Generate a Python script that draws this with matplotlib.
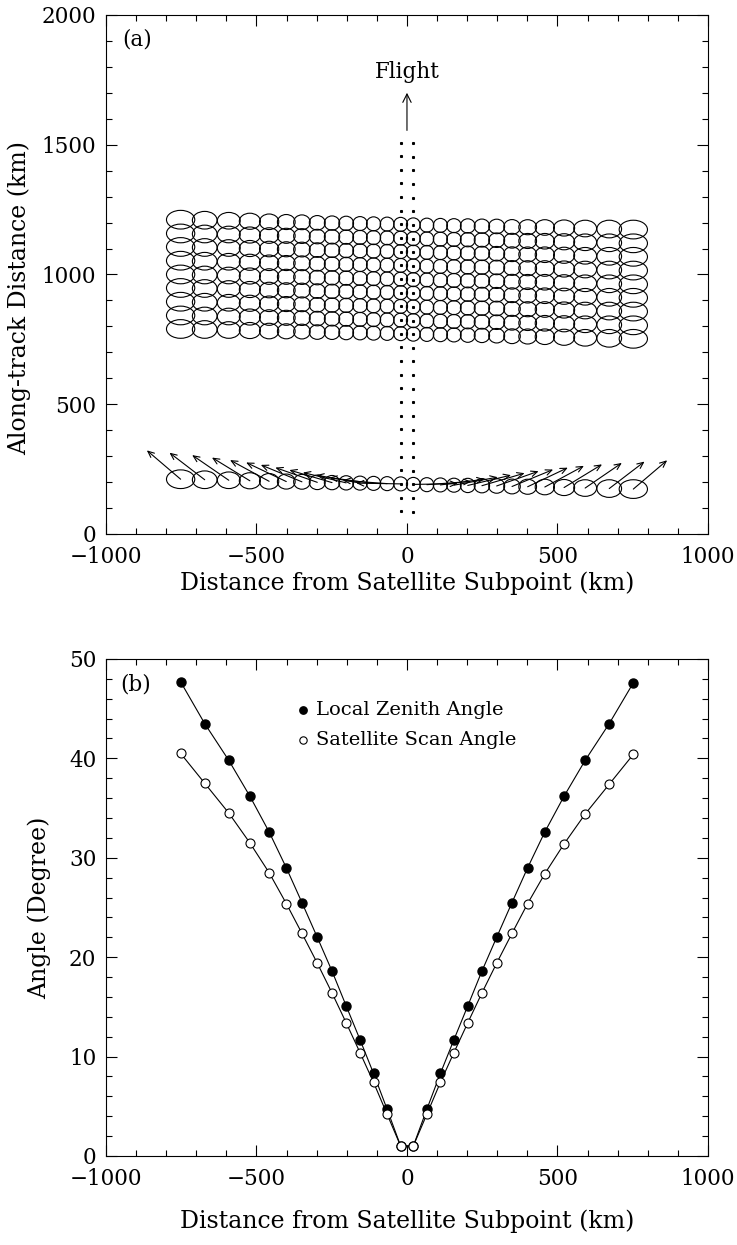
import numpy as np
import matplotlib.pyplot as plt
from matplotlib.patches import Ellipse
from matplotlib.ticker import MultipleLocator

plt.rcParams['font.family'] = ['DejaVu Serif']
plt.rcParams['mathtext.fontset'] = 'dejavuserif'

# Posiciones de los 28 FOV a lo largo del barrido (km desde el subpunto)
fov_x = [-752, -672, -592, -522, -458, -401, -349, -298, -249, -202, -156, -111, -66, -21,
         21, 66, 111, 156, 202, 249, 298, 349, 401, 458, 522, 592, 672, 752]
# Tamaño de cada huella (km)
fov_w = [94, 82, 76, 70, 64, 59, 55, 53, 51, 49, 48, 47, 46, 46,
         46, 46, 47, 48, 49, 51, 53, 55, 59, 64, 70, 76, 82, 94]
fov_h = [72, 68, 64, 62, 60, 58, 57, 56, 55, 55, 54, 54, 54, 54,
         54, 54, 54, 54, 55, 55, 56, 57, 58, 60, 62, 64, 68, 72]
# Desplazamiento a lo largo de la traza por la rotación de la Tierra (km)
fov_tilt = [19, 17, 15, 13, 11, 10, 9, 7, 6, 5, 4, 3, 2, 1,
            -1, -2, -3, -4, -5, -6, -7, -9, -10, -11, -13, -15, -17, -19]

# Posiciones de las líneas de barrido en el centro (km)
scan_y = [87, 139, 192, 245, 297, 350, 403, 455, 508, 560, 613, 666, 718, 771,
          823, 876, 929, 981, 1034, 1087, 1139, 1192, 1244, 1297, 1350, 1402, 1455, 1507]
arrow_row = 2
grid_rows = [13, 14, 15, 16, 17, 18, 19, 20, 21]
center_cols = [13, 14]

# Ángulos (grados)
zenith = [47.7, 43.5, 39.8, 36.2, 32.6, 29.0, 25.5, 22.0, 18.6, 15.1, 11.7, 8.3, 4.7, 1.0,
          1.0, 4.7, 8.3, 11.7, 15.1, 18.6, 22.0, 25.5, 29.0, 32.6, 36.2, 39.8, 43.5, 47.6]
scan = [40.5, 37.5, 34.5, 31.5, 28.5, 25.4, 22.4, 19.4, 16.4, 13.4, 10.4, 7.4, 4.2, 1.0,
        1.0, 4.2, 7.4, 10.4, 13.4, 16.4, 19.4, 22.4, 25.4, 28.4, 31.4, 34.4, 37.4, 40.4]

fs = 15.5    # números de los ejes
fl = 17      # títulos de los ejes
fig = plt.figure(figsize=(7.37, 12.45), dpi=100)
axa = fig.add_axes([0.1438, 0.5711, 0.8168, 0.4169])
axb = fig.add_axes([0.1438, 0.0715, 0.8168, 0.3992])

# ---------------- Panel (a) ----------------
for r in grid_rows + [arrow_row]:
    for i in range(len(fov_x)):
        e = Ellipse((fov_x[i], scan_y[r] + fov_tilt[i]), fov_w[i], fov_h[i],
                    fill=False, lw=0.8, ec='black')
        axa.add_patch(e)

# puntos de las columnas centrales
for c in center_cols:
    axa.plot([fov_x[c]] * len(scan_y), [y + fov_tilt[c] for y in scan_y],
             ls='none', marker='s', ms=1.2, color='black')

# flechas de polarización (ángulo = ángulo de barrido)
L = 32
for i in range(len(fov_x)):
    a = np.deg2rad(scan[i])
    s = np.sign(fov_x[i])
    axa.annotate('', xy=(fov_x[i], scan_y[arrow_row] + fov_tilt[i]),
                 xytext=(s * L * np.cos(a), L * np.sin(a)), textcoords='offset points',
                 arrowprops=dict(arrowstyle='<-, head_length=0.45, head_width=0.2',
                                 lw=0.8, color='black', shrinkA=0, shrinkB=0,
                                 mutation_scale=10))

# flecha de vuelo
axa.annotate('', xy=(0, 1700), xytext=(0, 1555),
             arrowprops=dict(arrowstyle='->, head_length=0.5, head_width=0.25',
                             lw=0.8, color='black', shrinkA=0, shrinkB=0,
                             mutation_scale=12))
axa.text(0, 1780, 'Flight', ha='center', va='center', fontsize=fs)
axa.text(0.027, 0.952, '(a)', transform=axa.transAxes, ha='left', va='center', fontsize=fs)

axa.set_xlim(-1000, 1000)
axa.set_ylim(0, 2000)
axa.xaxis.set_major_locator(MultipleLocator(500))
axa.xaxis.set_minor_locator(MultipleLocator(100))
axa.yaxis.set_major_locator(MultipleLocator(500))
axa.yaxis.set_minor_locator(MultipleLocator(100))
axa.set_xlabel('Distance from Satellite Subpoint (km)', fontsize=fl, labelpad=2)
axa.set_ylabel('Along-track Distance (km)', fontsize=fl)
axa.yaxis.set_label_coords(-0.124, 0.455)

# ---------------- Panel (b) ----------------
axb.plot(fov_x, zenith, color='black', lw=0.8, marker='o', ms=6.5,
         mfc='black', mec='black')
axb.plot(fov_x, scan, color='black', lw=0.8, marker='o', ms=6.5,
         mfc='white', mec='black', mew=0.8)

axb.plot([0.327], [0.897], transform=axb.transAxes, marker='o', ms=5.3,
         color='black', ls='none')
axb.plot([0.327], [0.837], transform=axb.transAxes, marker='o', ms=5.3,
         mfc='white', mec='black', mew=0.8, ls='none')
axb.text(0.349, 0.897, 'Local Zenith Angle', transform=axb.transAxes,
         ha='left', va='center', fontsize=14)
axb.text(0.349, 0.837, 'Satellite Scan Angle', transform=axb.transAxes,
         ha='left', va='center', fontsize=14)
axb.text(0.023, 0.948, '(b)', transform=axb.transAxes, ha='left', va='center', fontsize=fs)

axb.set_xlim(-1000, 1000)
axb.set_ylim(0, 50)
axb.xaxis.set_major_locator(MultipleLocator(500))
axb.xaxis.set_minor_locator(MultipleLocator(100))
axb.yaxis.set_major_locator(MultipleLocator(10))
axb.yaxis.set_minor_locator(MultipleLocator(2))
axb.set_xlabel('Distance from Satellite Subpoint (km)', fontsize=fl, labelpad=14)
axb.set_ylabel('Angle (Degree)', fontsize=fl)
axb.yaxis.set_label_coords(-0.091, 0.5)

for ax in (axa, axb):
    ax.tick_params(which='both', direction='in', top=True, right=True,
                   labelsize=fs, width=0.8)
    ax.tick_params(which='major', length=8)
    ax.tick_params(which='minor', length=4)
    ax.tick_params(axis='x', pad=9)
    ax.tick_params(axis='y', pad=7)
    for sp in ax.spines.values():
        sp.set_linewidth(0.8)

fig.savefig('out.png', dpi=100)
